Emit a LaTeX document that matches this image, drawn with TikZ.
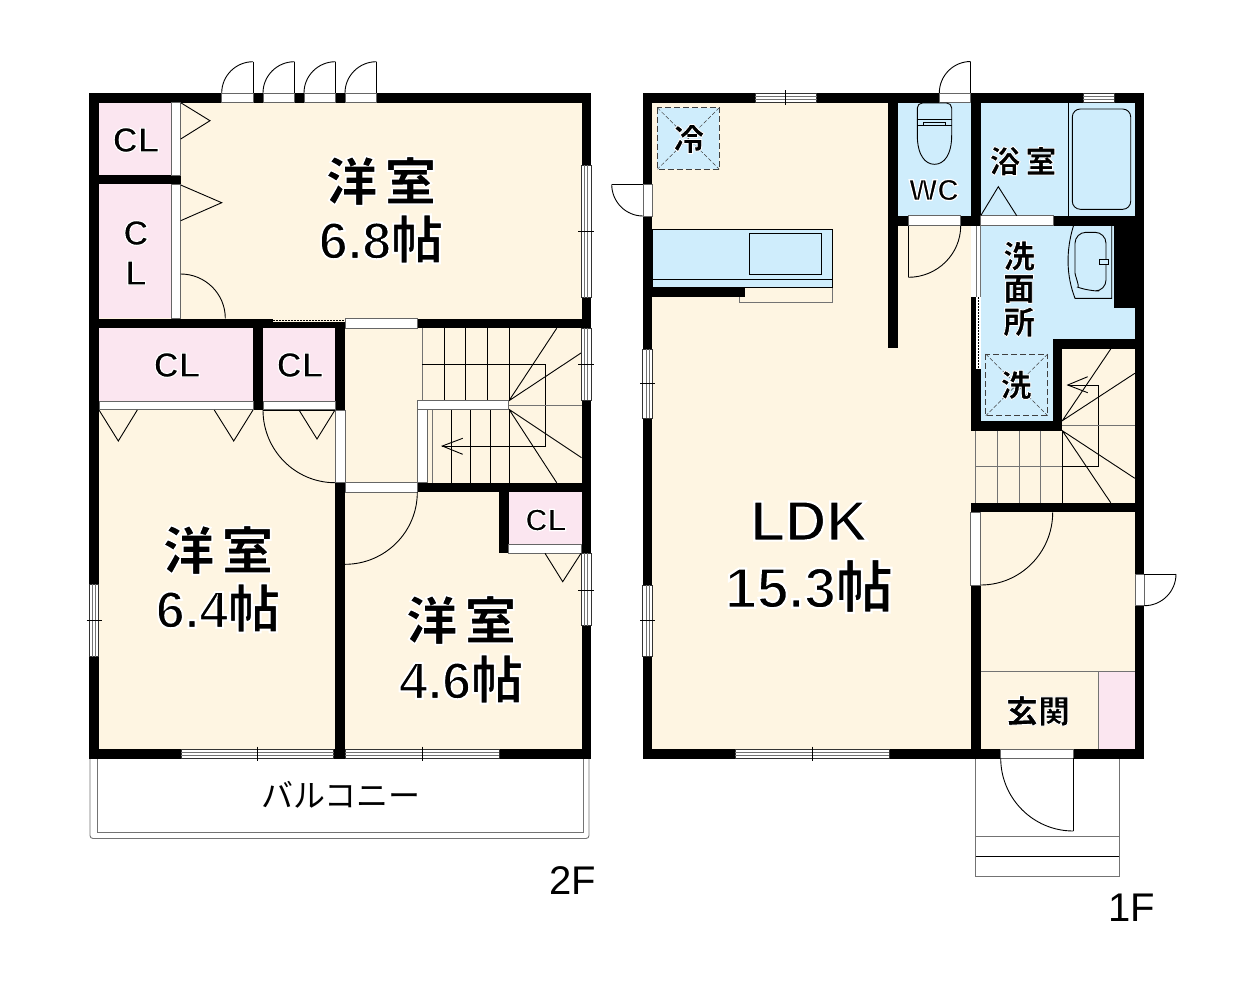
\documentclass[tikz,border=0pt]{standalone}
\usepackage{fontspec}
\setmainfont{Liberation Sans}
\newfontfamily\jpfont{Noto Sans CJK JP}
\usetikzlibrary{calc}

% White edge round a text: glyphs are filled and stroked once
\newcommand{\halo}[2][1.2]{\special{pdf:code q 2 Tr 1 1 1 RG #1 w}{\bfseries #2}\special{pdf:code Q}}

\definecolor{roomcream}{HTML}{FEF5E2}
\definecolor{closetpink}{HTML}{FBE6F0}
\definecolor{wetblue}{HTML}{CFEDFC}

\tikzset{
    wall/.style={fill=black, draw=none},
    band/.style={fill=white, draw=black!60, line width=0.7pt},
    thinline/.style={draw=black, line width=0.9pt},
    grayline/.style={draw=black!55, line width=0.9pt},
    dashbox/.style={draw=black!75, line width=0.8pt, dash pattern=on 6pt off 3pt},
    dashdiag/.style={draw=black!75, line width=0.5pt, dash pattern=on 4pt off 2pt},
    bigtext/.style={inner sep=0pt, font=\fontsize{52}{52}\selectfont},
    hugetext/.style={inner sep=0pt, font=\fontsize{57}{57}\selectfont},
    cltext/.style={inner sep=0pt, font=\fontsize{35}{35}\selectfont},
    smalltext/.style={inner sep=0pt, font=\fontsize{31}{31}\selectfont},
    floortext/.style={inner sep=0pt, font=\fontsize{40}{40}\selectfont},
}

% Quarter circle of a door: from, to, hinge
\newcommand{\swing}[3]{
    \draw[thinline] (#1) .. controls ($(#1)+0.5523*(#2)-0.5523*(#3)$) and ($(#2)+0.5523*(#1)-0.5523*(#3)$) .. (#2);
}
% Windows: from, to, wall edge
\newcommand{\hwin}[3]{
    \draw[band, draw=black!80] (#1,#3) rectangle (#2,#3+9.5);
    \draw[grayline, line width=0.7pt] (#1,#3+3.2)--(#2,#3+3.2);
    \draw[grayline, line width=0.7pt] (#1,#3+6.3)--(#2,#3+6.3);
}
\newcommand{\vwin}[3]{
    \draw[band, draw=black!80] (#3,#1) rectangle (#3+9.5,#2);
    \draw[grayline, line width=0.7pt] (#3+3.2,#1)--(#3+3.2,#2);
    \draw[grayline, line width=0.7pt] (#3+6.3,#1)--(#3+6.3,#2);
}

\begin{document}
\begin{tikzpicture}[x=1pt, y=-1pt]

    \useasboundingbox (0, 0) rectangle (1242, 980);
    \fill[white] (0, 0) rectangle (1242, 980);

    %%%% 2F %%%%

    % Floors
    \fill[roomcream] (89, 93) rectangle (590.5, 758);
    \fill[closetpink] (99, 102) rectangle (172, 175);
    \fill[closetpink] (99, 184) rectangle (172, 318);
    \fill[closetpink] (99, 328) rectangle (253, 401);
    \fill[closetpink] (263, 328) rectangle (335, 401);
    \fill[closetpink] (509, 492) rectangle (581.5, 544.5);

    % Balcony
    \draw[grayline, rounded corners=3pt] (90, 758)--(90, 838.5)--(589, 838.5)--(589, 758);
    \draw[grayline] (97, 758)--(97, 832)--(583, 832)--(583, 758);

    % Walls
    \fill[wall] (89, 93) rectangle (590.5, 102.5);
    \fill[wall] (89, 749) rectangle (590.5, 758.5);
    \fill[wall] (89, 93) rectangle (99, 758.5);
    \fill[wall] (581.5, 93) rectangle (590.5, 758.5);
    \fill[wall] (89, 175) rectangle (180.7, 184.3);
    \fill[wall] (89, 318.5) rectangle (273, 328.3);
    \fill[wall] (273, 322) rectangle (345, 328.3);
    \fill[wall] (417, 318.5) rectangle (590.5, 328.3);
    \fill[wall] (253.3, 318.5) rectangle (263, 410);
    \fill[wall] (335, 322) rectangle (345, 410);
    \fill[wall] (335, 482.7) rectangle (345, 758.5);
    \fill[wall] (417, 482.7) rectangle (590.5, 492.3);
    \fill[wall] (499.3, 482.7) rectangle (508.7, 553.3);

    % Dotted track
    \draw[thinline, line width=1.2pt, dash pattern=on 1.5pt off 1.5pt] (273, 320.5)--(345, 320.5);

    % Closet and room doors
    \draw[band] (171.7, 102.5) rectangle (180.7, 175);
    \draw[band] (171.7, 184.3) rectangle (180.7, 318.5);
    \draw[band] (99, 401) rectangle (253.3, 409.5);
    \draw[band] (263, 401) rectangle (335, 409.5);
    \draw[band] (508.7, 544.5) rectangle (581.5, 553.3);
    \draw[band] (335.5, 410) rectangle (345, 482.7);
    \draw[band] (345, 318.5) rectangle (417, 328.3);
    \draw[band] (345, 482.7) rectangle (417, 492.3);
    \draw[thinline] (263, 410)--(335, 410);

    % Folding doors
    \draw[thinline] (180.7, 102.7)--(210, 120.7)--(180.7, 139);
    \draw[thinline] (180.7, 185)--(221.7, 202.7)--(180.7, 220.7);
    \draw[thinline] (99, 410)--(118.3, 441)--(137.3, 410);
    \draw[thinline] (214.3, 410)--(233.7, 441)--(253, 410);
    \draw[thinline] (299, 410)--(317, 439)--(335, 410);
    \draw[thinline] (545, 553.3)--(562.7, 581.7)--(581, 553.3);

    % Door swings
    \swing{180.7,274}{225.3,318.3}{180.7,318.3}
    \swing{263,410}{335,482.7}{335,410}
    \swing{417.3,492.3}{345,564.3}{345,492.3}

    % Doors to the top
    \foreach \x in {221.7,263,304,345}{
        \draw[band] (\x, 93) rectangle (\x+31.5, 102.5);
        \draw[thinline] (\x+31.5, 93)--(\x+31.5, 61.7);
        \swing{\x+31.5,61.7}{\x,93}{\x+31.5,93}
    }

    % Stairs, upper run
    \foreach \x in {444,465.7,487.3,509}{
        \draw[thinline] (\x, 328.3)--(\x, 400.7);
    }
    \draw[grayline] (422.3, 328.3)--(422.3, 400.7);
    \draw[thinline] (422.3, 364.3)--(545, 364.3)--(545, 446)--(442.3, 446);
    \draw[thinline] (462.7, 438.3)--(442.3, 446)--(462.7, 454.3);

    % Stairs, lower run
    \draw[grayline] (432.3, 409)--(432.3, 482.7);
    \foreach \x in {451.3,470.7,490,509}{
        \draw[thinline] (\x, 409)--(\x, 482.7);
    }

    % Stairs, winders
    \draw[thinline] (556.7, 328.3)--(509, 400.7)--(581.5, 352.7);
    \draw[grayline] (509, 405)--(581.5, 405);
    \draw[thinline] (581.5, 457.7)--(509, 409.3)--(556.7, 482.7);
    \draw[band] (417, 400.7) rectangle (508.5, 409.3);
    \draw[band] (417, 409.3) rectangle (427, 482.7);

    % Windows
    \vwin{165}{297.7}{581.5}
    \vwin{328.3}{400}{581.5}
    \vwin{553.3}{625.7}{581.5}
    \vwin{584.3}{656.7}{89.3}
    \hwin{181}{333.5}{749}
    \hwin{345}{499}{749}
    \foreach \y in {231,364.3,590}{
        \draw[thinline] (578, \y)--(594, \y);
    }
    \draw[thinline] (86.7, 620.7)--(101.5, 620.7);
    \foreach \x in {257,422}{
        \draw[thinline] (\x, 746.5)--(\x, 761);
    }

    % Room names
    \node[bigtext] (roomnorth) at (381, 181) {\halo[1.6]{\jpfont 洋\hspace{7pt}室}};
    \node[bigtext] (sizenorth) at (381, 239) {\halo[2]{6.8{\jpfont 帖}}};
    \node[bigtext] (roomwest) at (218, 550) {\halo[1.6]{\jpfont 洋\hspace{7pt}室}};
    \node[bigtext] (sizewest) at (218, 608) {\halo[2]{6.4{\jpfont 帖}}};
    \node[bigtext] (roomsouth) at (461, 620) {\halo[1.6]{\jpfont 洋\hspace{7pt}室}};
    \node[bigtext] (sizesouth) at (461, 679) {\halo[2]{4.6{\jpfont 帖}}};

    \node[cltext] (clone) at (136, 140) {\halo{CL}};
    \node[cltext] (cltwoc) at (136, 233) {\halo{C}};
    \node[cltext] (cltwol) at (136, 273) {\halo{L}};
    \node[cltext] (clthree) at (177, 365) {\halo{CL}};
    \node[cltext] (clfour) at (300, 365) {\halo{CL}};
    \node[smalltext] (clfive) at (546, 520) {\halo{CL}};

    \node[smalltext, font=\fontsize{32}{32}\selectfont\jpfont] (balcony) at (341, 795) {バルコニー};
    \node[floortext] (floortwo) at (573, 881) {2F};

    %%%% 1F %%%%

    % Floors
    \fill[roomcream] (643, 93) rectangle (1144, 758);
    \fill[wetblue] (898, 102) rectangle (971, 216);
    \fill[wetblue] (980.7, 102) rectangle (1135, 216);
    \fill[wetblue] (980.7, 225) rectangle (1135, 340);
    \fill[wetblue] (980.7, 340) rectangle (1053, 421);
    \fill[closetpink] (1098.3, 671.7) rectangle (1135, 749.3);

    % Porch
    \draw[grayline] (975.7, 758)--(975.7, 876.7)--(1119, 876.7)--(1119, 758);
    \draw[grayline] (975.7, 836)--(1119, 836);
    \draw[thinline] (975.7, 856)--(1119, 856);

    % Walls
    \fill[wall] (642.7, 93) rectangle (1144.3, 102.5);
    \fill[wall] (642.7, 749.3) rectangle (1144.3, 758.5);
    \fill[wall] (642.7, 93) rectangle (652.3, 758.5);
    \fill[wall] (1134.8, 93) rectangle (1144.3, 758.5);
    \fill[wall] (642.7, 287.3) rectangle (744.7, 297.3);
    \fill[wall] (888.3, 93) rectangle (898.3, 348.3);
    \fill[wall] (970.7, 93) rectangle (980.7, 225.7);
    \fill[wall] (888.3, 215.7) rectangle (1144.3, 225.7);
    \fill[wall] (1114.3, 225.7) rectangle (1144.3, 307.7);
    \fill[wall] (970.7, 297.3) rectangle (976, 369.3);
    \fill[wall] (970.7, 369.3) rectangle (980.7, 430.7);
    \fill[wall] (970.7, 421) rectangle (1062.3, 430.7);
    \fill[wall] (1052.7, 339.3) rectangle (1062.3, 430.7);
    \fill[wall] (1052.7, 339.3) rectangle (1144.3, 349);
    \fill[wall] (970.7, 502.7) rectangle (1144.3, 512.3);
    \fill[wall] (970.7, 585) rectangle (980.7, 758.5);

    % Sliding door to the washroom
    \fill[white] (970.7, 225.7) rectangle (980.7, 297.3);
    \draw[grayline] (976, 225.7)--(976, 297.3);
    \draw[grayline] (980, 225.7)--(980, 297.3);
    \fill[white] (976, 297.3) rectangle (980.7, 369.3);
    \draw[thinline, line width=1.2pt, dash pattern=on 1.5pt off 1.5pt] (978.5, 297.3)--(978.5, 369.3);

    % Doors
    \draw[band] (908.3, 215.7) rectangle (960.7, 225.7);
    \draw[band] (980.7, 215.7) rectangle (1053, 225.7);
    \draw[band] (939.3, 93) rectangle (970.7, 102.5);
    \draw[band] (643, 184.3) rectangle (652.3, 216);
    \draw[band] (1135, 574) rectangle (1144.3, 605.7);
    \draw[band] (970.7, 512.3) rectangle (980.7, 585);
    \draw[band] (1000.7, 749.3) rectangle (1073.3, 758.5);

    \draw[thinline] (970.7, 93)--(970.7, 61.5);
    \swing{970.7,61.5}{939.3,93}{970.7,93}
    \draw[thinline] (643, 184.3)--(611.7, 184.3);
    \swing{611.7,184.3}{643,216}{643,184.3}
    \draw[thinline] (908.3, 225.7)--(908.3, 277.3);
    \swing{908.3,277.3}{960.7,225.7}{908.3,225.7}
    \swing{1052.7,512.3}{980.7,585}{980.7,512.3}
    \draw[thinline] (1144.3, 574)--(1176, 574);
    \swing{1176,574}{1144.3,605.7}{1144.3,574}
    \draw[thinline] (1073.3, 758)--(1073.3, 831);
    \swing{1000.7,758}{1073.3,831}{1073.3,758}
    \draw[thinline] (980.7, 215.7)--(998.3, 186.7)--(1016.7, 215.7);

    % Fridge and washer places
    \fill[wetblue] (657.3, 107.7) rectangle (719.3, 169.3);
    \draw[dashbox] (657.3, 107.7) rectangle (719.3, 169.3);
    \draw[dashdiag] (657.3, 107.7)--(719.3, 169.3);
    \draw[dashdiag] (719.3, 107.7)--(657.3, 169.3);
    \draw[dashbox] (985.7, 354) rectangle (1047.7, 415.7);
    \draw[dashdiag] (985.7, 354)--(1047.7, 415.7);
    \draw[dashdiag] (1047.7, 354)--(985.7, 415.7);

    % Kitchen
    \draw[grayline] (739.3, 297.3)--(739.3, 302.7)--(832.3, 302.7)--(832.3, 287.3);
    \draw[thinline, fill=wetblue] (652.3, 229.3) rectangle (832.3, 287.3);
    \draw[thinline] (749.3, 233.3) rectangle (821.7, 274.7);
    \draw[thinline] (652.3, 279.3)--(832.3, 279.3);

    % Toilet
    \draw[thinline, rounded corners=5pt] (917.3, 119)--(917.3, 103)--(951.7, 103)--(951.7, 119);
    \draw[thinline] (917.3, 119)--(951.7, 119);
    \draw[thinline] (917.3, 125)--(951.7, 125);
    \draw[thinline] (923.3, 122.7) rectangle (945.7, 125);
    \draw[thinline] (917.3, 119)--(917.3, 135) .. controls (917.3, 155) and (925, 164.3) .. (934.5, 164.3) .. controls (944, 164.3) and (951.7, 155) .. (951.7, 135)--(951.7, 119);

    % Bath
    \draw[thinline] (1068.3, 102.5)--(1068.3, 215.7);
    \draw[thinline, rounded corners=8pt] (1072.3, 109) rectangle (1130.7, 209.3);
    \hwin{1083.3}{1114.3}{93}

    % Washbasin
    \draw[thinline] (1073.5, 225.7) .. controls (1066, 250) and (1066, 275) .. (1075, 298.3)--(1111.7, 298.3)--(1111.7, 225.7);
    \draw[thinline, rounded corners=11pt] (1075, 232.3)--(1106, 232.3)--(1106, 291)--(1088, 291) .. controls (1080, 288) and (1075, 275) .. (1075, 262)--cycle;
    \draw[thinline, fill=wetblue] (1099, 259) rectangle (1108, 264.3);

    % Stairs
    \draw[grayline] (975.7, 430.7)--(975.7, 502.7);
    \foreach \x in {997.3,1019,1040.7}{
        \draw[grayline] (\x, 430.7)--(\x, 502.7);
    }
    \draw[thinline] (1062.3, 430.7)--(1062.3, 502.7);
    \draw[grayline] (975.7, 466.7)--(1062.3, 466.7);
    \draw[thinline] (1062.3, 466.7)--(1098.3, 466.7)--(1098.3, 385)--(1067.7, 385);
    \draw[thinline] (1087.7, 376.7)--(1067.7, 385)--(1087.7, 392.7);
    \draw[thinline] (1110.7, 349)--(1062.3, 420.7)--(1134.8, 373.3);
    \draw[grayline] (1062.3, 425.7)--(1134.8, 425.7);
    \draw[thinline] (1134.8, 478.3)--(1062.3, 430.7)--(1110.7, 502.7);

    % Entrance step
    \draw[grayline] (980.7, 671.7)--(1134.8, 671.7);
    \draw[grayline] (1098.3, 671.7)--(1098.3, 749.3);

    % Windows
    \hwin{755}{816.7}{93}
    \hwin{735}{889}{749.3}
    \vwin{349}{418}{642.7}
    \vwin{585}{656}{642.7}
    \draw[thinline] (785.7, 90)--(785.7, 105);
    \draw[thinline] (812, 746.5)--(812, 761);
    \foreach \y in {383,620}{
        \draw[thinline] (640, \y)--(655, \y);
    }

    % Room names
    \node[hugetext] (roomldk) at (809, 521) {\halo[2.2]{LDK}};
    \node[hugetext] (sizeldk) at (809, 586) {\halo[2.2]{15.3{\jpfont 帖}}};
    \node[smalltext, font=\fontsize{31}{31}\selectfont\jpfont] (fridge) at (689, 139) {\halo[0.9]{冷}};
    \node[smalltext, font=\fontsize{30}{30}\selectfont] (toilet) at (934, 190) {\halo{WC}};
    \node[smalltext, font=\fontsize{31}{31}\selectfont\jpfont] (bath) at (1023, 161) {\halo[0.9]{浴\hspace{5pt}室}};
    \node[smalltext, font=\fontsize{32}{32}\selectfont\jpfont] (washone) at (1019, 256) {\halo[0.9]{洗}};
    \node[smalltext, font=\fontsize{32}{32}\selectfont\jpfont] (washtwo) at (1019, 289) {\halo[0.9]{面}};
    \node[smalltext, font=\fontsize{32}{32}\selectfont\jpfont] (washthree) at (1019, 322) {\halo[0.9]{所}};
    \node[smalltext, font=\fontsize{31}{31}\selectfont\jpfont] (washer) at (1016, 385) {\halo[0.9]{洗}};
    \node[smalltext, font=\fontsize{32}{32}\selectfont\jpfont] (entrance) at (1038, 711) {\halo[0.9]{玄関}};
    \node[floortext] (floorone) at (1132, 908) {1F};

\end{tikzpicture}
\end{document}
